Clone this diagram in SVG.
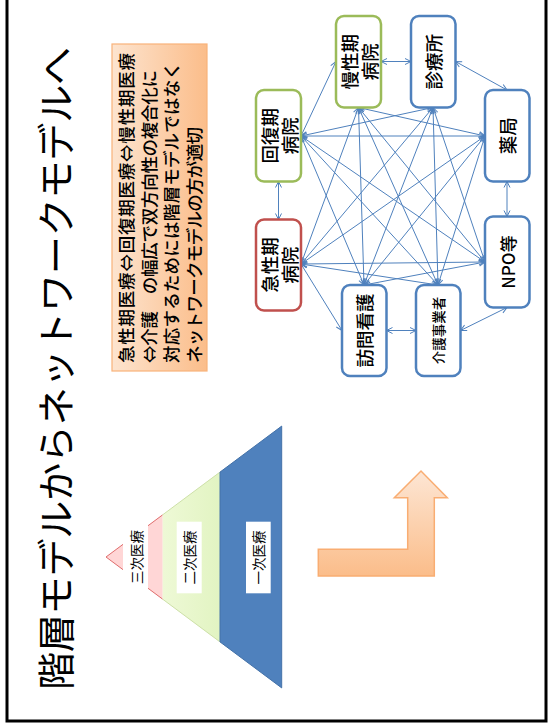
<svg xmlns="http://www.w3.org/2000/svg" width="550" height="724" viewBox="0 0 550 724">
<style>
.t{font-family:"Noto Sans CJK JP","Noto Sans",sans-serif;fill:#000;}
.node rect{fill:#fff;stroke-width:2.5;}
.red{stroke:#c0504d;}
.grn{stroke:#9bbb59;}
.blu{stroke:#4f81bd;}
.lbl{font-size:18.5px;font-weight:500;text-anchor:middle;dominant-baseline:central;}
.pl{font-size:13.5px;text-anchor:middle;dominant-baseline:central;}
.bx{font-size:17.5px;font-weight:500;dominant-baseline:central;}
#connectors line{stroke:#4f81bd;stroke-width:1;marker-start:url(#ah);marker-end:url(#ah);}
</style>
<defs>
<marker id="ah" markerUnits="userSpaceOnUse" viewBox="-8 -5 10 10" refX="0" refY="0" markerWidth="10" markerHeight="10" orient="auto-start-reverse">
<path d="M-6,-3 L0,0 L-6,3" fill="none" stroke="#4f81bd" stroke-width="1"/>
</marker>
<linearGradient id="og" x1="0" y1="0" x2="1" y2="0">
<stop offset="0" stop-color="#fde4cf"/>
<stop offset="1" stop-color="#fbbd8a"/>
</linearGradient>
<linearGradient id="ag" x1="0" y1="0" x2="0" y2="1">
<stop offset="0" stop-color="#fde6d4"/>
<stop offset="1" stop-color="#fbbd8a"/>
</linearGradient>
<linearGradient id="gg" x1="0" y1="0" x2="1" y2="0">
<stop offset="0" stop-color="#eef9d6"/>
<stop offset="1" stop-color="#e2f4c2"/>
</linearGradient>
</defs>

<rect id="frame" x="7" y="-10" width="539" height="731" fill="#fff" stroke="#000" stroke-width="3"/>

<text id="title" class="t" font-size="38" text-anchor="middle" dominant-baseline="central" textLength="643" lengthAdjust="spacing" transform="translate(53,368.5) rotate(-90)">階層モデルからネットワークモデルへ</text>

<g id="note">
<rect x="112" y="44" width="95" height="327" fill="url(#og)" stroke="#f9b27a" stroke-width="1.2"/>
<text class="t bx" textLength="310" lengthAdjust="spacing" transform="translate(125.5,363) rotate(-90)">急性期医療⇔回復期医療⇔慢性期医療</text>
<text class="t bx" textLength="293" lengthAdjust="spacing" transform="translate(148,363) rotate(-90)">⇔介護　の幅広で双方向性の複合化に</text>
<text class="t bx" textLength="301" lengthAdjust="spacing" transform="translate(170.5,363) rotate(-90)">対応するためには階層モデルではなく</text>
<text class="t bx" textLength="236" lengthAdjust="spacing" transform="translate(193,363) rotate(-90)">ネットワークモデルの方が適切</text>
</g>

<g id="pyramid">
<polygon points="106,557 162.7,514.8 162.7,599.2" fill="#ffd6d6"/>
<polyline points="162.7,514.8 106,557 162.7,599.2" fill="none" stroke="#e06c6c" stroke-width="1"/>
<polygon points="162.7,514.8 220,472.1 220,641.9 162.7,599.2" fill="url(#gg)"/>
<line x1="162.7" y1="514.8" x2="220" y2="472.1" stroke="#cde0a8" stroke-width="1"/>
<line x1="162.7" y1="599.2" x2="220" y2="641.9" stroke="#cde0a8" stroke-width="1"/>
<polygon points="220,472.1 281.7,426.1 281.7,687.9 220,641.9" fill="#4f81bd" stroke="#4472a8" stroke-width="1"/>
<rect x="123" y="508" width="25" height="98" fill="#fff"/>
<text class="t pl" transform="translate(135.5,557) rotate(-90)">三次医療</text>
<rect x="176.7" y="521.7" width="25" height="71.6" fill="#fff"/>
<text class="t pl" transform="translate(189.2,557.5) rotate(-90)">二次医療</text>
<rect x="246" y="521.7" width="24.7" height="71.6" fill="#fff"/>
<text class="t pl" transform="translate(258.3,557.5) rotate(-90)">一次医療</text>
</g>

<g id="bend-arrow">
<polygon points="318.3,549.3 407.7,549.3 407.7,497.7 394.3,497.7 421,471 447.3,497.7 434.3,497.7 434.3,576 318.3,576" fill="url(#ag)" stroke="#f9ad72" stroke-width="1.5"/>
</g>

<g id="connectors">
<line x1="278.5" y1="219.5" x2="278.5" y2="181.5"/>
<line x1="301" y1="136" x2="336" y2="61.5"/>
<line x1="381" y1="61.5" x2="411" y2="61.5"/>
<line x1="455.5" y1="61.5" x2="507" y2="90"/>
<line x1="507" y1="181.5" x2="507" y2="216.5"/>
<line x1="507" y1="307.5" x2="460.5" y2="330.5"/>
<line x1="416" y1="330.5" x2="386.5" y2="330.5"/>
<line x1="301" y1="264" x2="342" y2="330.5"/>
<line x1="301" y1="264" x2="358.5" y2="107.5"/>
<line x1="301" y1="264" x2="433" y2="107.5"/>
<line x1="301" y1="264" x2="485" y2="136"/>
<line x1="301" y1="264" x2="485" y2="262"/>
<line x1="301" y1="264" x2="438" y2="285"/>
<line x1="301" y1="136" x2="433" y2="107.5"/>
<line x1="301" y1="136" x2="485" y2="136"/>
<line x1="301" y1="136" x2="485" y2="262"/>
<line x1="301" y1="136" x2="438" y2="285"/>
<line x1="301" y1="136" x2="364" y2="285"/>
<line x1="358.5" y1="107.5" x2="485" y2="136"/>
<line x1="358.5" y1="107.5" x2="485" y2="262"/>
<line x1="358.5" y1="107.5" x2="438" y2="285"/>
<line x1="358.5" y1="107.5" x2="364" y2="285"/>
<line x1="433" y1="107.5" x2="485" y2="262"/>
<line x1="433" y1="107.5" x2="438" y2="285"/>
<line x1="433" y1="107.5" x2="364" y2="285"/>
<line x1="485" y1="136" x2="438" y2="285"/>
<line x1="485" y1="136" x2="364" y2="285"/>
<line x1="485" y1="262" x2="364" y2="285"/>
</g>

<g id="n-kyusei" class="node">
<rect class="red" x="256" y="219.5" width="45" height="91" rx="8"/>
<text class="t lbl" transform="translate(278.5,265) rotate(-90)"><tspan x="0" y="-10">急性期</tspan><tspan x="0" y="10">病院</tspan></text>
</g>
<g id="n-kaifuku" class="node">
<rect class="grn" x="256" y="90" width="45" height="91.5" rx="8"/>
<text class="t lbl" transform="translate(278.5,135.8) rotate(-90)"><tspan x="0" y="-10">回復期</tspan><tspan x="0" y="10">病院</tspan></text>
</g>
<g id="n-mansei" class="node">
<rect class="grn" x="336" y="16" width="45" height="91.5" rx="8"/>
<text class="t lbl" transform="translate(358.5,61.8) rotate(-90)"><tspan x="0" y="-10">慢性期</tspan><tspan x="0" y="10">病院</tspan></text>
</g>
<g id="n-shinryojo" class="node">
<rect class="blu" x="411" y="16" width="44.5" height="91.5" rx="8"/>
<text class="t lbl" transform="translate(433.2,61.8) rotate(-90)">診療所</text>
</g>
<g id="n-yakkyoku" class="node">
<rect class="blu" x="485" y="90" width="44.5" height="91.5" rx="8"/>
<text class="t lbl" transform="translate(507.2,135.8) rotate(-90)">薬局</text>
</g>
<g id="n-npo" class="node">
<rect class="blu" x="485" y="216.5" width="44.5" height="91" rx="8"/>
<text class="t lbl" style="font-size:17px" transform="translate(507.2,262) rotate(-90)">NPO等</text>
</g>
<g id="n-kaigo" class="node">
<rect class="blu" x="416" y="285" width="44.5" height="91" rx="8"/>
<text class="t lbl" style="font-size:13.5px" transform="translate(438.2,330.5) rotate(-90)">介護事業者</text>
</g>
<g id="n-homon" class="node">
<rect class="blu" x="342" y="285" width="44.5" height="91" rx="8"/>
<text class="t lbl" transform="translate(364.2,330.5) rotate(-90)">訪問看護</text>
</g>
</svg>
